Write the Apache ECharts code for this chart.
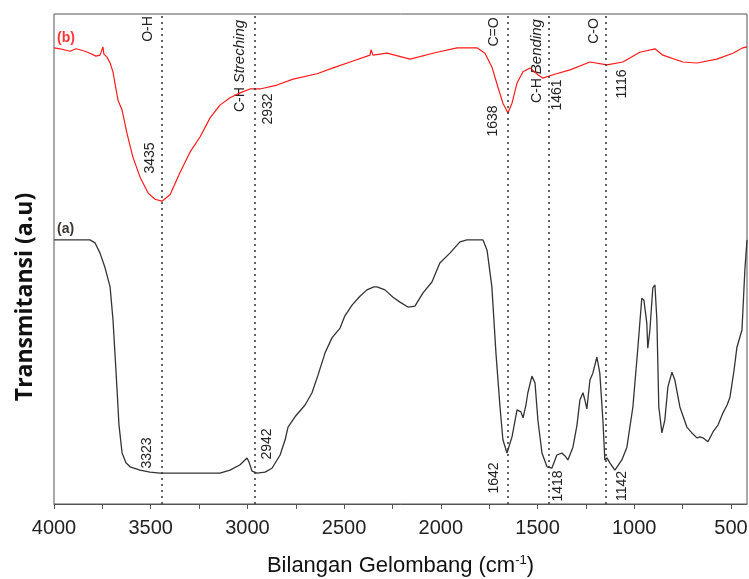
<!DOCTYPE html>
<html>
<head>
<meta charset="utf-8">
<title>FTIR</title>
<script src="https://cdn.jsdelivr.net/npm/echarts@6/dist/echarts.min.js"></script>
<style>
  html, body { margin: 0; padding: 0; background: #fff; }
  #chart { width: 749px; height: 579px; }
</style>
</head>
<body>
<div id="chart"></div>
<script>
// spectrum (a) - black
const waveA = [4000, 3814, 3788, 3762, 3736, 3710, 3695, 3685, 3674, 3664, 3648, 3628, 3607, 3555, 3504, 3452,
  3245, 3142, 3090, 3038, 3002, 2992, 2976, 2950, 2909, 2873, 2831, 2805, 2790, 2754, 2702, 2666, 2635, 2599,
  2563, 2521, 2496, 2459, 2418, 2382, 2346, 2330, 2289, 2247, 2211, 2170, 2134, 2092, 2046, 2005, 1953, 1901,
  1865, 1782, 1761, 1736, 1715, 1694, 1679, 1658, 1632, 1606, 1596, 1586, 1575, 1560, 1550, 1529, 1513, 1498,
  1477, 1451, 1426, 1400, 1374, 1358, 1343, 1317, 1296, 1281, 1265, 1255, 1245, 1229, 1214, 1193, 1178, 1162,
  1152, 1141, 1126, 1100, 1064, 1038, 1007, 981, 961, 950, 935, 930, 919, 904, 893, 883, 873, 857, 842, 826,
  805, 790, 764, 728, 702, 676, 660, 645, 619, 593, 567, 541, 520, 505, 484, 469, 443, 428, 417];
const transA = [53.9, 53.9, 53.3, 51.2, 48.2, 44.3, 37.6, 30.8, 23.3, 16.1, 10.4, 8.4, 7.6, 6.9, 6.5, 6.3,
  6.3, 6.3, 6.9, 8.0, 9.4, 8.6, 6.7, 6.3, 6.5, 7.3, 10.0, 13.1, 15.7, 17.8, 20.2, 22.7, 26.3, 30.8,
  33.9, 35.9, 38.4, 40.6, 42.4, 43.7, 44.3, 44.3, 43.7, 42.2, 41.2, 40.2, 40.4, 43.1, 45.3, 49.2, 51.2, 53.5,
  53.9, 53.9, 51.8, 44.3, 30.8, 19.8, 13.1, 10.4, 13.7, 19.2, 19.6, 18.8, 17.6, 20.2, 22.7, 26.1, 24.7, 17.1,
  10.4, 7.6, 7.3, 10.0, 10.4, 9.8, 9.0, 11.6, 16.1, 21.2, 22.7, 21.2, 19.4, 25.3, 26.7, 30.0, 26.7, 17.1,
  9.0, 9.4, 8.4, 6.9, 9.0, 11.6, 19.8, 32.0, 42.0, 41.6, 36.9, 31.8, 35.5, 44.1, 44.7, 37.6, 19.8, 14.5, 17.1, 23.9,
  26.9, 25.3, 19.8, 15.7, 14.5, 13.5, 13.7, 13.5, 12.7, 14.7, 16.1, 18.6, 20.2, 21.8, 27.3, 32.0, 35.5, 47.8, 53.9];

// spectrum (b) - red
const waveB = [4000, 3969, 3917, 3886, 3866, 3840, 3814, 3783, 3762, 3752, 3747, 3742, 3726, 3710, 3695, 3685,
  3669, 3648, 3623, 3592, 3555, 3514, 3478, 3442, 3400, 3349, 3297, 3245, 3193, 3142, 3090, 3038, 2987, 2935,
  2847, 2764, 2640, 2557, 2454, 2366, 2361, 2351, 2278, 2159, 2020, 1916, 1813, 1772, 1736, 1705, 1679, 1653,
  1632, 1606, 1575, 1539, 1498, 1472, 1420, 1332, 1229, 1141, 1059, 971, 893, 852, 749, 676, 573, 490, 438, 417];
const transB = [93.1, 92.9, 92.4, 92.9, 92.7, 92.4, 92.0, 91.4, 91.6, 92.0, 93.3, 91.8, 91.2, 90.0, 88.2, 85.9,
  82.4, 80.4, 75.7, 70.8, 66.7, 63.5, 62.2, 61.8, 63.1, 67.6, 71.8, 74.9, 78.8, 81.4, 82.9, 83.9, 84.7, 84.7,
  85.5, 86.7, 87.8, 89.0, 90.4, 91.6, 92.7, 91.6, 92.0, 90.8, 92.2, 93.1, 93.1, 92.0, 89.2, 85.1, 81.8, 79.8,
  81.8, 85.9, 88.2, 89.0, 87.6, 86.9, 87.6, 88.6, 90.2, 89.6, 90.2, 92.2, 92.9, 91.6, 90.2, 90.0, 90.8, 92.0, 93.1, 93.3];

// dotted guide lines
const peakLines = [3443, 2961, 1656, 1441, 1146];

// axis ticks
const tickValues = [4000, 3750, 3500, 3250, 3000, 2750, 2500, 2250, 2000, 1750, 1500, 1250, 1000, 750, 500];
const tickLabels = [4000, 3500, 3000, 2500, 2000, 1500, 1000, 500];

// annotation texts
const topNotes = ['O-H', '3435', 'C-H Streching', '2932', 'C=O', '1638', 'C-H Bending', '1461', 'C-O', '1116'];
const bottomNotes = ['3323', '2942', '1642', '1418', '1142'];

// where each note sits (pixel centres)
const topNotePos = [[148, 29], [150, 158], [240, 66], [268, 109], [494, 32], [493, 121], [537, 61], [557, 95], [594, 31], [622, 84]];
const bottomNotePos = [[147, 453], [267, 444], [494, 478], [558, 486], [622, 486]];

const chart = echarts.init(document.getElementById('chart'));

function noteText(txt) {
  // "Streching" / "Bending" are italic
  const parts = txt.split(' ');
  if (parts.length > 1) {
    return '{n|' + parts[0] + ' }{i|' + parts.slice(1).join(' ') + '}';
  }
  return '{n|' + txt + '}';
}

const notes = topNotes.concat(bottomNotes);
const notePos = topNotePos.concat(bottomNotePos);

const graphics = notes.map((t, i) => ({
  type: 'text',
  x: notePos[i][0],
  y: notePos[i][1],
  rotation: Math.PI / 2,
  style: {
    text: noteText(t),
    align: 'center',
    verticalAlign: 'middle',
    rich: {
      n: { fontFamily: 'Liberation Sans', fontSize: 14, fill: '#222' },
      i: { fontFamily: 'Liberation Sans', fontSize: 15, fontStyle: 'italic', fill: '#222' }
    }
  }
}));

graphics.push(
  {
    type: 'text', x: 57, y: 38,
    style: { text: '(b)', fontFamily: 'Liberation Sans', fontSize: 14, fontWeight: 'bold', fill: '#ff3333', verticalAlign: 'middle' }
  },
  {
    type: 'text', x: 57, y: 229,
    style: { text: '(a)', fontFamily: 'Liberation Sans', fontSize: 14, fontWeight: 'bold', fill: '#3a3530', verticalAlign: 'middle' }
  },
  {
    type: 'text', x: 25, y: 297, rotation: Math.PI / 2,
    style: {
      text: 'Transmitansi (a.u)', fontFamily: 'Open Sans', fontSize: 23, fontWeight: 'bold',
      fill: '#111', align: 'center', verticalAlign: 'middle'
    }
  }
);

const option = {
  animation: false,
  grid: {
    left: 54, right: 2, top: 14, bottom: 75,
    outerBoundsMode: 'none',
    containLabel: false,
    show: true,
    borderColor: '#555',
    borderWidth: 1
  },
  xAxis: {
    type: 'value',
    inverse: true,
    min: 417,
    max: 4000,
    name: 'Bilangan Gelombang (cm{sup|-1})',
    nameLocation: 'middle',
    nameGap: 50,
    nameTextStyle: {
      fontFamily: 'Liberation Sans',
      fontSize: 22,
      color: '#111',
      rich: {
        sup: { fontFamily: 'Liberation Sans', fontSize: 13, color: '#111', verticalAlign: 'top', padding: [0, 0, 10, 0] }
      }
    },
    axisLine: { onZero: false, lineStyle: { color: '#555', width: 1 } },
    axisTick: {
      customValues: tickValues,
      inside: false,
      length: 5,
      lineStyle: { color: '#555' }
    },
    axisLabel: {
      customValues: tickLabels,
      margin: 14,
      fontFamily: 'Liberation Sans',
      fontSize: 20,
      color: '#222',
      formatter: (v) => String(v)
    },
    splitLine: { show: false }
  },
  yAxis: {
    type: 'value',
    min: 0,
    max: 100,
    show: false
  },
  series: [
    {
      name: '(a)',
      type: 'line',
      data: waveA.map((w, i) => [w, transA[i]]),
      showSymbol: false,
      lineStyle: { color: '#333', width: 1.3 },
      markLine: {
        silent: true,
        symbol: 'none',
        label: { show: false },
        lineStyle: { color: '#333', type: [2, 4], width: 1.5 },
        data: peakLines.map((v) => ({ xAxis: v }))
      }
    },
    {
      name: '(b)',
      type: 'line',
      data: waveB.map((w, i) => [w, transB[i]]),
      showSymbol: false,
      lineStyle: { color: '#ff1a1a', width: 1.2 }
    }
  ],
  graphic: graphics
};

chart.setOption(option);
</script>
</body>
</html>
